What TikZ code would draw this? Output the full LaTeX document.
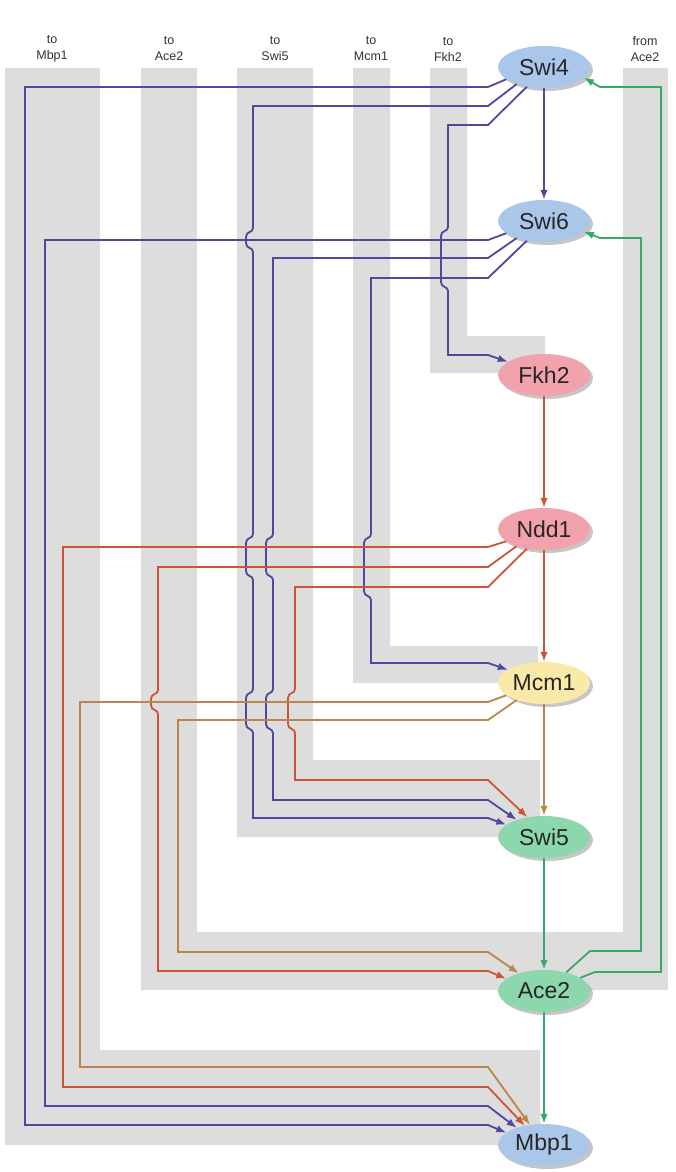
\documentclass[tikz,border=0pt]{standalone}
\usepackage{fontspec}
\setmainfont{Liberation Sans}
\usetikzlibrary{arrows.meta,shapes.geometric,shadows}
\definecolor{cBlue}{RGB}{78,72,160}
\definecolor{cRed}{RGB}{205,85,55}
\definecolor{cBrown}{RGB}{185,135,75}
\definecolor{cGreen}{RGB}{55,170,105}
\definecolor{bandgray}{RGB}{221,221,221}
\definecolor{nBlue}{RGB}{170,198,232}
\definecolor{nPink}{RGB}{242,162,172}
\definecolor{nYellow}{RGB}{250,234,170}
\definecolor{nGreen}{RGB}{140,215,172}
\newcommand{\hopv}[3]{-- (#1,#2) .. controls (#1,#2+5) and (#1-7,#2+3) .. (#1-7,#2+9) -- (#1-7,#3-9) .. controls (#1-7,#3-3) and (#1,#3-5) .. (#1,#3)}
\begin{document}
\begin{tikzpicture}[x=1pt,y=-1pt,
  gene/.style={ellipse, minimum width=92pt, minimum height=42pt, inner sep=0pt,
    font=\fontsize{23}{26}\selectfont, text=black!85,
    drop shadow={opacity=0.45, shadow xshift=3pt, shadow yshift=-3pt}},
  lab/.style={align=center, font=\fontsize{12.5}{16}\selectfont, text=black!80},
  band/.style={fill=bandgray},
  link/.style={line width=1.8pt, -{Latex[length=10pt,width=7.5pt]}},
  lb/.style={link, draw=cBlue},
  lr/.style={link, draw=cRed},
  ln/.style={link, draw=cBrown},
  lg/.style={link, draw=cGreen}]
\useasboundingbox (0,0) rectangle (676,1172);
% gray bands
\fill[band] (5,68) -- (100,68) -- (100,1050) -- (540,1050) -- (540,1145) -- (5,1145) -- cycle;
\fill[band] (141,68) -- (197,68) -- (197,932) -- (623,932) -- (623,68) -- (668,68) -- (668,990) -- (141,990) -- cycle;
\fill[band] (237,68) -- (313,68) -- (313,760) -- (540,760) -- (540,837) -- (237,837) -- cycle;
\fill[band] (353,68) -- (390,68) -- (390,646) -- (538,646) -- (538,683) -- (353,683) -- cycle;
\fill[band] (430,68) -- (467,68) -- (467,336) -- (545,336) -- (545,373) -- (430,373) -- cycle;
% labels
\node[lab] (tMbp1) at (52,49) {to\\Mbp1};
\node[lab] (tAce2) at (169,49) {to\\Ace2};
\node[lab] (tSwi5) at (275,49) {to\\Swi5};
\node[lab] (tMcm1) at (371,49) {to\\Mcm1};
\node[lab] (tFkh2) at (448,49) {to\\Fkh2};
\node[lab] (fAce2) at (645,49) {from\\Ace2};
% genes
\node[gene, fill=nBlue]   (Swi4) at (544,67)   {Swi4};
\node[gene, fill=nBlue]   (Swi6) at (544,221)  {Swi6};
\node[gene, fill=nPink]   (Fkh2) at (544,375)  {Fkh2};
\node[gene, fill=nPink]   (Ndd1) at (544,529)  {Ndd1};
\node[gene, fill=nYellow] (Mcm1) at (544,683)  {Mcm1};
\node[gene, fill=nGreen]  (Swi5) at (544,837)  {Swi5};
\node[gene, fill=nGreen]  (Ace2) at (544,991)  {Ace2};
\node[gene, fill=nBlue]   (Mbp1) at (544,1145) {Mbp1};
% vertical chain
\draw[lb] (Swi4.south) -- (Swi6.north);
\draw[lr] (Fkh2.south) -- (Ndd1.north);
\draw[lr] (Ndd1.south) -- (Mcm1.north);
\draw[ln] (Mcm1.south) -- (Swi5.north);
\draw[lg] (Swi5.south) -- (Ace2.north);
\draw[lg] (Ace2.south) -- (Mbp1.north);
% Swi4 outputs
\draw[lb] (Swi4.198) -- (488,87) -- (25,87) -- (25,1125) -- (488,1125) -- (Mbp1.162);
\draw[lb] (Swi4.212) -- (488,106) -- (253,106) \hopv{253}{228}{252} \hopv{253}{534}{580} \hopv{253}{689}{733} -- (253,818) -- (488,818) -- (Swi5.162);
\draw[lb] (Swi4.229) -- (488,125) -- (448,125) \hopv{448}{227}{291} -- (448,355) -- (488,355) -- (Fkh2.160);
% Swi6 outputs
\draw[lb] (Swi6.198) -- (488,240) -- (45,240) -- (45,1106) -- (488,1106) -- (Mbp1.148);
\draw[lb] (Swi6.212) -- (488,258) -- (273,258) \hopv{273}{534}{580} \hopv{273}{689}{733} -- (273,800) -- (488,800) -- (Swi5.148);
\draw[lb] (Swi6.229) -- (488,278) -- (371,278) \hopv{371}{534}{600} -- (371,663) -- (488,663) -- (Mcm1.160);
% Ndd1 outputs
\draw[lr] (Ndd1.198) -- (488,547) -- (63,547) -- (63,1087) -- (488,1087) -- (Mbp1.135);
\draw[lr] (Ndd1.212) -- (488,567) -- (158,567) \hopv{158}{690}{714} -- (158,971) -- (488,971) -- (Ace2.162);
\draw[lr] (Ndd1.229) -- (488,587) -- (295,587) \hopv{295}{689}{733} -- (295,780) -- (488,780) -- (Swi5.130);
% Mcm1 outputs
\draw[ln] (Mcm1.198) -- (488,702) -- (80,702) -- (80,1067) -- (488,1067) -- (Mbp1.125);
\draw[ln] (Mcm1.212) -- (488,720) -- (178,720) -- (178,952) -- (488,952) -- (Ace2.145);
% Ace2 feedback
\draw[lg] (Ace2.40) -- (590,951) -- (641,951) -- (641,238) -- (600,238) -- (Swi6.345);
\draw[lg] (Ace2.20) -- (595,972) -- (661,972) -- (661,87) -- (600,87) -- (Swi4.345);
\end{tikzpicture}
\end{document}
